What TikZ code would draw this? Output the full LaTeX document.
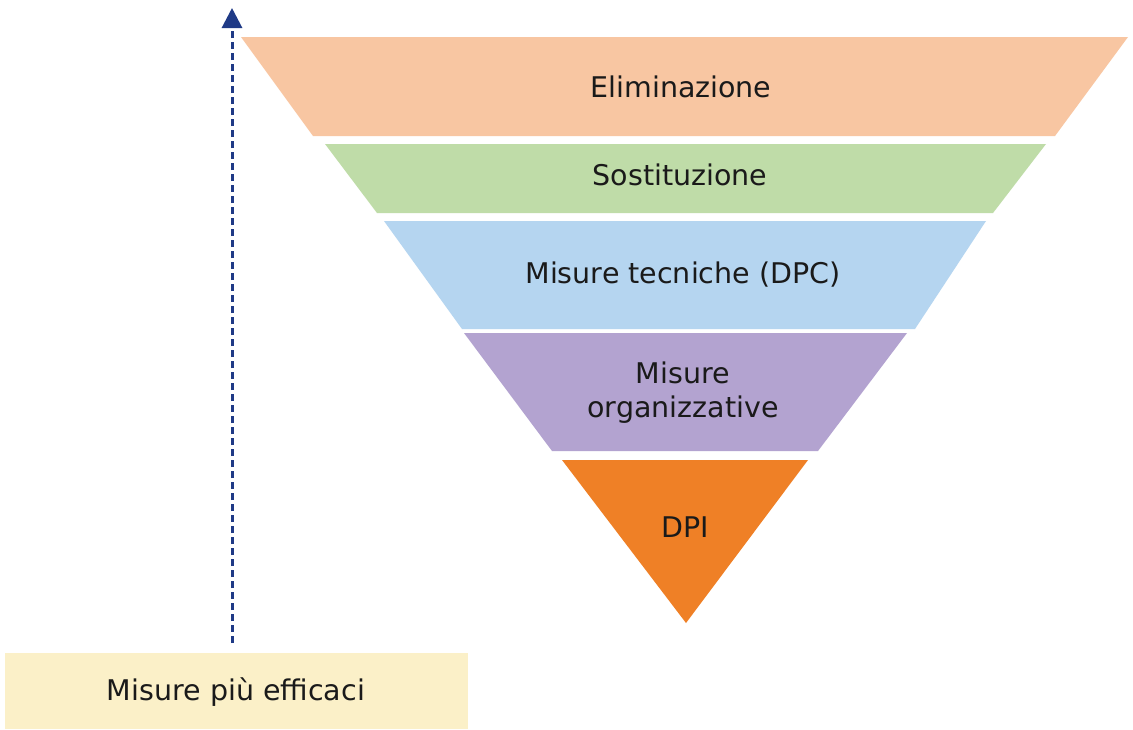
\documentclass[tikz,border=0pt]{standalone}
\usepackage{fontspec}
\setmainfont{DejaVu Sans}
\usetikzlibrary{arrows.meta}
\definecolor{cElim}{HTML}{F8C6A2}
\definecolor{cSost}{HTML}{BFDCA8}
\definecolor{cTec}{HTML}{B5D5F0}
\definecolor{cOrg}{HTML}{B3A3D0}
\definecolor{cDpi}{HTML}{EF8026}
\definecolor{cBox}{HTML}{FBF0C8}
\definecolor{cArrow}{HTML}{1F3A86}
\definecolor{cText}{HTML}{1A1A1A}
\tikzset{
  layer/.style={draw=none},
  lbl/.style={text=cText, font=\fontsize{28.5}{34}\selectfont, anchor=base, align=center, inner sep=0pt},
  effarrow/.style={draw=cArrow, line width=3pt, dash pattern=on 7pt off 4pt, -{Triangle[width=20pt,length=20pt]}},
}
\begin{document}
\begin{tikzpicture}[x=1pt,y=-1pt]
\useasboundingbox (0,0) rectangle (1133,729);
\fill[white] (0,0) rectangle (1133,729);
% layers
\fill[layer, cElim] (241,37) -- (1128,37) -- (1055,136) -- (313,136) -- cycle;
\fill[layer, cSost] (325,144) -- (1046,144) -- (993,213) -- (377,213) -- cycle;
\fill[layer, cTec] (384,221) -- (986,221) -- (915,329) -- (462,329) -- cycle;
\fill[layer, cOrg] (464,333) -- (907,333) -- (818,451) -- (552,451) -- cycle;
\fill[layer, cDpi] (562,460) -- (808,460) -- (686,623) -- cycle;
% labels
\node[lbl] (elim) at (681,97) {Eliminazione};
\node[lbl] (sost) at (680,185) {Sostituzione};
\node[lbl] (tec) at (683,283) {Misure tecniche (DPC)};
\node[lbl] (org) at (683,417) {Misure\\organizzative};
\node[lbl] (dpi) at (685,537) {DPI};
% bottom box
\fill[cBox] (5,653) rectangle (468,729);
\node[lbl] (eff) at (236,700) {Misure più efficaci};
% arrow
\coordinate (arrowbot) at (232,643);
\coordinate (arrowtop) at (232,8);
\draw[effarrow] (arrowbot) -- (arrowtop);
\end{tikzpicture}
\end{document}
